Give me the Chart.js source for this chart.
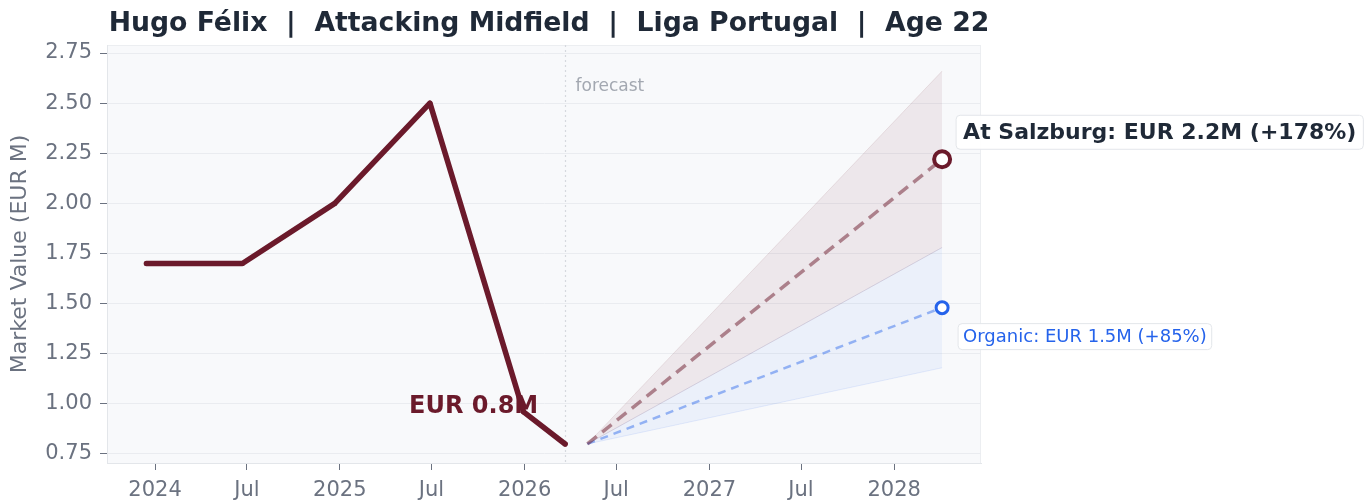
<!DOCTYPE html>
<html>
<head>
<meta charset="utf-8">
<script src="https://cdn.jsdelivr.net/npm/chart.js@4.4.1/dist/chart.umd.min.js"></script>
<style>
  html, body { margin: 0; padding: 0; background: #fff; }
  canvas { display: block; }
</style>
</head>
<body>
<canvas id="chart" width="1368" height="503"></canvas>
<script>
// textos
const titleText = 'Hugo Félix  |  Attacking Midfield  |  Liga Portugal  |  Age 22';
const yTitle = 'Market Value (EUR M)';
const lastLabel = 'EUR 0.8M';
const salzburgLabel = 'At Salzburg: EUR 2.2M (+178%)';
const organicLabel = 'Organic: EUR 1.5M (+85%)';

// historico
const histDates = ['2023-12-15', '2024-06-22', '2024-12-22', '2025-06-28', '2025-12-30', '2026-03-22'];
const histValues = [1.70, 1.70, 2.00, 2.50, 0.96, 0.80];

// proyecciones
const projDates = ['2026-05-05', '2028-04-05'];
const salzburgValues = [0.80, 2.22];
const salzburgHigh = [0.80, 2.66];
const salzburgLow = [0.80, 1.78];
const organicValues = [0.80, 1.48];
const organicHigh = [0.80, 1.78];
const organicLow = [0.80, 1.18];

// ejes
const xTickDates = ['2024-01-01', '2024-07-01', '2025-01-01', '2025-07-01', '2026-01-01', '2026-07-01', '2027-01-01', '2027-07-01', '2028-01-01'];
const xTickLabels = ['2024', 'Jul', '2025', 'Jul', '2026', 'Jul', '2027', 'Jul', '2028'];
const yTickValues = [0.75, 1.00, 1.25, 1.50, 1.75, 2.00, 2.25, 2.50, 2.75];

const MAROON = '#6b1a2b';
const BLUE = '#2563eb';
const FONT = "'DejaVu Sans', sans-serif";

function toYear(s) {
    const d = Date.parse(s + 'T00:00:00Z');
    const y = new Date(d).getUTCFullYear();
    const a = Date.UTC(y, 0, 1), b = Date.UTC(y + 1, 0, 1);
    return y + (d - a) / (b - a);
}
const pts = (dates, vals) => dates.map((d, i) => ({ x: toYear(d), y: vals[i] }));

function boxLabel(ctx, text, x, cy, font, color, padX, h) {
    ctx.font = font;
    const w = ctx.measureText(text).width;
    ctx.beginPath();
    ctx.roundRect(x - padX, cy - h / 2, w + padX * 2, h, 4);
    ctx.fillStyle = 'rgba(255,255,255,0.92)';
    ctx.fill();
    ctx.strokeStyle = '#e3e6ea';
    ctx.lineWidth = 1;
    ctx.stroke();
    ctx.fillStyle = color;
    ctx.textAlign = 'left';
    ctx.textBaseline = 'middle';
    ctx.fillText(text, x, cy + 1);
}

const decor = {
    id: 'decor',
    beforeDraw(chart) {
        const { ctx, chartArea: a } = chart;
        ctx.save();
        ctx.fillStyle = '#f8f9fb';
        ctx.fillRect(a.left, a.top, a.right - a.left, a.bottom - a.top);
        ctx.strokeStyle = '#eceef1';
        ctx.lineWidth = 1;
        ctx.strokeRect(a.left + 0.5, a.top + 0.5, a.right - a.left - 1, a.bottom - a.top);
        ctx.restore();
    },
    beforeDatasetsDraw(chart) {
        const { ctx, chartArea: a, scales } = chart;
        const fx = Math.round(scales.x.getPixelForValue(toYear(histDates[histDates.length - 1]))) + 0.5;
        ctx.save();
        ctx.strokeStyle = '#d6d9de';
        ctx.lineWidth = 1.2;
        ctx.setLineDash([2, 3]);
        ctx.beginPath();
        ctx.moveTo(fx, a.top);
        ctx.lineTo(fx, a.bottom);
        ctx.stroke();
        ctx.setLineDash([]);
        ctx.font = '17px ' + FONT;
        ctx.fillStyle = '#a3a8b1';
        ctx.textAlign = 'left';
        ctx.textBaseline = 'middle';
        ctx.fillText('forecast', fx + 10, a.top + 42);
        ctx.restore();
    },
    afterDatasetsDraw(chart) {
        const { ctx, chartArea: a, scales } = chart;
        const sx = scales.x, sy = scales.y;
        ctx.save();
        // titulo
        ctx.font = 'bold 26.7px ' + FONT;
        ctx.fillStyle = '#1f2937';
        ctx.textAlign = 'center';
        ctx.textBaseline = 'middle';
        ctx.fillText(titleText, (a.left + a.right) / 2 + 5, 24);

        // ultimo valor
        const lx = sx.getPixelForValue(toYear(histDates[histDates.length - 1]));
        const ly = sy.getPixelForValue(histValues[histValues.length - 1]);
        ctx.font = 'bold 24px ' + FONT;
        ctx.fillStyle = MAROON;
        ctx.textAlign = 'left';
        ctx.fillText(lastLabel, lx - 156, ly - 37);

        // etiquetas finales
        const ex = sx.getPixelForValue(toYear(projDates[1]));
        boxLabel(ctx, salzburgLabel, ex + 21, sy.getPixelForValue(salzburgValues[1]) - 27,
            'bold 22px ' + FONT, '#1f2937', 7, 34);
        boxLabel(ctx, organicLabel, ex + 21, sy.getPixelForValue(organicValues[1]) + 29,
            '18px ' + FONT, BLUE, 5, 26);
        ctx.restore();
    }
};

new Chart(document.getElementById('chart'), {
    type: 'line',
    data: {
        datasets: [
            {
                data: pts(histDates, histValues),
                borderColor: MAROON, backgroundColor: MAROON,
                borderWidth: 5.5, pointRadius: 2.5, pointBorderWidth: 0,
                borderCapStyle: 'round', borderJoinStyle: 'round', tension: 0
            },
            {
                data: pts(projDates, salzburgValues),
                borderColor: 'rgba(107,26,43,0.5)', borderWidth: 3.5, borderDash: [12, 7],
                pointRadius: [0, 8], pointBorderWidth: 4, pointBackgroundColor: '#fff', pointBorderColor: MAROON
            },
            {
                data: pts(projDates, organicValues),
                borderColor: 'rgba(37,99,235,0.45)', borderWidth: 2.5, borderDash: [8, 6],
                pointRadius: [0, 6], pointBorderWidth: 3, pointBackgroundColor: '#fff', pointBorderColor: BLUE
            },
            {
                data: pts(projDates, salzburgHigh),
                borderColor: 'rgba(107,26,43,0.10)', borderWidth: 1, pointRadius: 0,
                backgroundColor: 'rgba(120,30,50,0.08)', fill: '+1'
            },
            {
                data: pts(projDates, salzburgLow),
                borderColor: 'rgba(107,26,43,0.10)', borderWidth: 1, pointRadius: 0
            },
            {
                data: pts(projDates, organicHigh),
                borderColor: 'rgba(37,99,235,0.08)', borderWidth: 1, pointRadius: 0,
                backgroundColor: 'rgba(37,99,235,0.06)', fill: '+1'
            },
            {
                data: pts(projDates, organicLow),
                borderColor: 'rgba(37,99,235,0.10)', borderWidth: 1, pointRadius: 0
            }
        ]
    },
    options: {
        responsive: false,
        animation: false,
        layout: { padding: { top: 45, right: 387, left: 0, bottom: 0 } },
        plugins: { legend: { display: false }, tooltip: { enabled: false }, title: { display: false } },
        scales: {
            x: {
                type: 'linear',
                min: 2023.74, max: 2028.47,
                afterFit: s => { s.height = 40; },
                afterBuildTicks: s => { s.ticks = xTickDates.map(d => ({ value: toYear(d) })); },
                ticks: {
                    callback: (v, i) => xTickLabels[i],
                    color: '#6b7280', font: { family: FONT, size: 21 }, padding: 8, maxRotation: 0, autoSkip: false
                },
                grid: { drawOnChartArea: false, drawTicks: true, tickLength: 7, tickColor: '#6b7280' },
                border: { color: '#e3e6ea' }
            },
            y: {
                min: 0.705, max: 2.79,
                afterFit: s => { s.width = 107; },
                afterBuildTicks: s => { s.ticks = yTickValues.map(v => ({ value: v })); },
                ticks: {
                    callback: v => v.toFixed(2),
                    color: '#6b7280', font: { family: FONT, size: 21 }, padding: 8
                },
                grid: { color: '#eaecf0', lineWidth: 1, tickLength: 7, tickColor: '#6b7280' },
                border: { color: '#e3e6ea' },
                title: { display: true, text: yTitle, color: '#6b7280', font: { family: FONT, size: 22 }, padding: { top: 7, bottom: 0 } }
            }
        }
    },
    plugins: [decor]
});
</script>
</body>
</html>
